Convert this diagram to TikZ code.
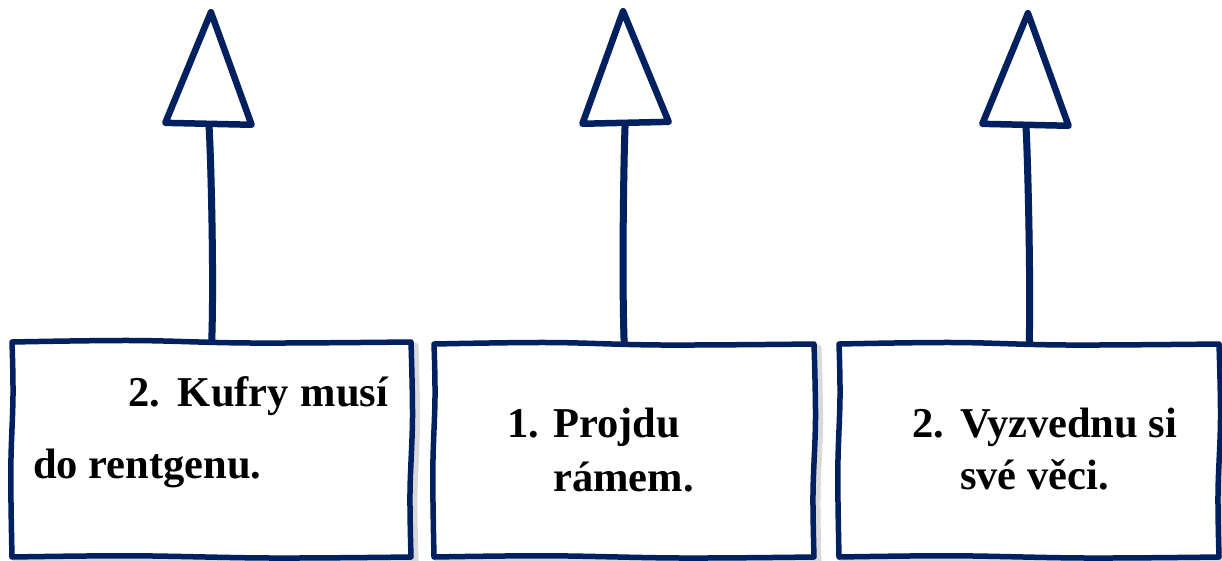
\documentclass[tikz,border=0pt]{standalone}
\usepackage{fontspec}
\setmainfont{Liberation Serif}
\usetikzlibrary{arrows.meta}
\definecolor{navy}{RGB}{0,32,96}
\newcommand{\wbox}[5]{%
 \draw[#1] plot[smooth,tension=0.6] coordinates {(#2,#3) ({#2+0.3*(#4-#2)},{#3-1.5}) ({#2+0.6*(#4-#2)},{#3+1}) (#4,#3)}
   -- plot[smooth,tension=0.6] coordinates {(#4,#3) ({#4+1.5},{#3+0.35*(#5-#3)}) ({#4-1},{#3+0.7*(#5-#3)}) (#4,#5)}
   -- plot[smooth,tension=0.6] coordinates {(#4,#5) ({#4-0.35*(#4-#2)},{#5+1}) ({#4-0.7*(#4-#2)},{#5-1.2}) (#2,#5)}
   -- plot[smooth,tension=0.6] coordinates {(#2,#5) ({#2-1.2},{#5-0.4*(#5-#3)}) ({#2+1},{#5-0.75*(#5-#3)}) (#2,#3)} -- cycle;}
\begin{document}
\begin{tikzpicture}[x=1pt,y=-1pt,
  boxarea/.style={rectangle,draw=none,inner sep=0pt,anchor=north west},
  boxline/.style={draw=navy,line width=5.5pt,fill=white,line join=round},
  shadowline/.style={draw=black!15,line width=7pt,line join=round},
  stem/.style={draw=navy,line width=7pt,
    -{Triangle[length=124pt,width=94pt,line width=6.5pt,fill=white,round]}},
  stemshadow/.style={draw=black!15,line width=7pt,
    -{Triangle[length=124pt,width=94pt,line width=7pt,fill=white,round]}},
  label/.style={anchor=base west,inner sep=0pt,font=\bfseries\fontsize{42.5}{50}\selectfont,text=black}]
\useasboundingbox (0,0) rectangle (1222,560);
% box areas
\node[boxarea,minimum width=399pt,minimum height=215pt] (b1) at (12,342) {};
\node[boxarea,minimum width=380pt,minimum height=213pt] (b2) at (434,344) {};
\node[boxarea,minimum width=380pt,minimum height=213pt] (b3) at (839,344) {};
\coordinate (t1) at (211,9);
\coordinate (t2) at (623,8);
\coordinate (t3) at (1028,10);
% shadows
\begin{scope}[shift={(4,4)}]
\draw[stemshadow] (b1.north) .. controls +(3,-80) and +(-2,90) .. (t1);
\draw[stemshadow] (b2.north) .. controls +(-3,-80) and +(2,90) .. (t2);
\draw[stemshadow] (b3.north) .. controls +(2,-80) and +(-2,90) .. (t3);
\wbox{shadowline}{12}{342}{411}{557}
\wbox{shadowline}{434}{344}{814}{557}
\wbox{shadowline}{839}{344}{1219}{557}
\end{scope}
% connectors
\draw[stem] (b1.north) .. controls +(3,-80) and +(-2,90) .. (t1);
\draw[stem] (b2.north) .. controls +(-3,-80) and +(2,90) .. (t2);
\draw[stem] (b3.north) .. controls +(2,-80) and +(-2,90) .. (t3);
% boxes
\wbox{boxline}{12}{342}{411}{557}
\wbox{boxline}{434}{344}{814}{557}
\wbox{boxline}{839}{344}{1219}{557}
% texts
\node[label] (l1a) at (128,406) {\makebox[260pt][s]{2. Kufry musí}};
\node[label] (l1b) at (33,478) {do rentgenu.};
\node[label] (l2a) at (507,437) {\makebox[46pt][l]{1.}Projdu};
\node[label] (l2b) at (553,491) {rámem.};
\node[label] (l3a) at (912,437) {\makebox[48pt][l]{2.}Vyzvednu si};
\node[label] (l3b) at (960,489) {své věci.};
\end{tikzpicture}
\end{document}
